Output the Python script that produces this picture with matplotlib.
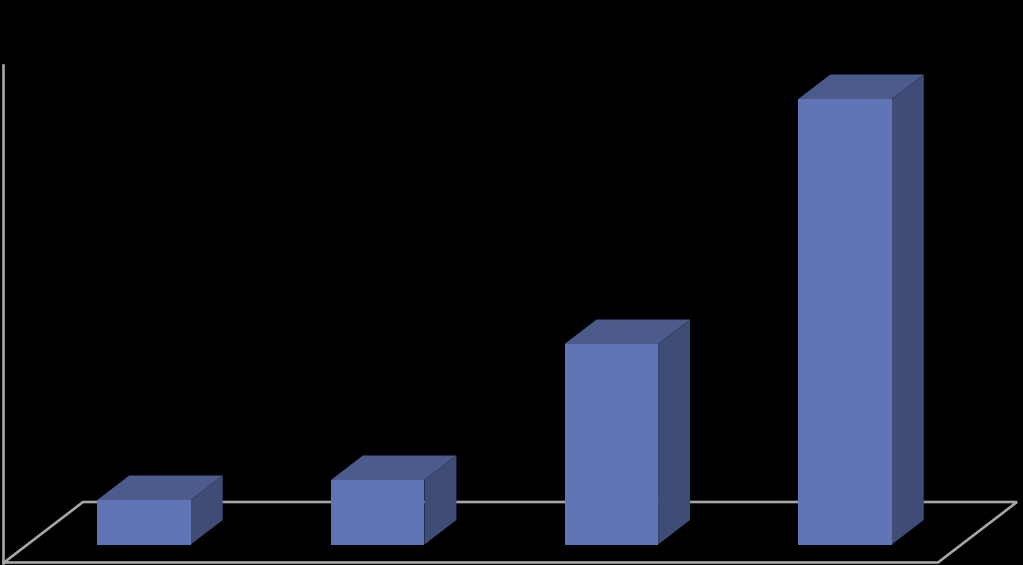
import matplotlib
matplotlib.use('Agg')
import matplotlib.pyplot as plt
from matplotlib.patches import Polygon

# Category slots have no visible labels in the chart
categories = [0, 1, 2, 3]
values = [44.5, 64.5, 200.5, 445.5]

W, H = 1023, 565
BASE_PX = 544.5      # pixel row of value 0
X0_PX = 144.0        # pixel column of the first bar's centre
STEP_PX = 233.67     # pixels between categories
BAR_W = 93.5 / STEP_PX
DX = 32 / STEP_PX    # depth of the 3D box
DY = 24.5

FRONT = '#5f75b5'
TOP = '#4b5b8b'
SIDE = '#3e4c76'
GRID = '#a6a6a6'

fig = plt.figure(figsize=(W / 100, H / 100), dpi=100, facecolor='black')
ax = fig.add_axes([0, 0, 1, 1])
ax.set_facecolor('black')
ax.set_xlim(-X0_PX / STEP_PX, (W - X0_PX) / STEP_PX)
ax.set_ylim(BASE_PX - H, BASE_PX)
ax.axis('off')


def px_x(p):
    return (p - X0_PX) / STEP_PX


def px_y(p):
    return BASE_PX - p


# Floor and value axis
floor_x = [px_x(p) for p in (4, 83, 1017, 938, 4)]
floor_y = [px_y(p) for p in (562.5, 502, 502, 562.5, 562.5)]
ax.plot(floor_x, floor_y, color=GRID, lw=1.9, solid_joinstyle='miter', zorder=1)
ax.plot([px_x(3.5), px_x(3.5)], [px_y(65), px_y(563)], color=GRID, lw=1.9, zorder=1)

# Boxes
ax.bar(categories, values, width=BAR_W, color=FRONT, linewidth=0, zorder=3)
for c, v in zip(categories, values):
    l = c - BAR_W / 2
    r = c + BAR_W / 2
    ax.add_patch(Polygon([(l, v), (r, v), (r + DX, v + DY), (l + DX, v + DY)],
                         closed=True, facecolor=TOP, edgecolor='none', zorder=2))
    ax.add_patch(Polygon([(r, 0), (r + DX, DY), (r + DX, v + DY), (r, v)],
                         closed=True, facecolor=SIDE, edgecolor='none', zorder=2))

fig.savefig('out.png', dpi=100, facecolor=fig.get_facecolor())
